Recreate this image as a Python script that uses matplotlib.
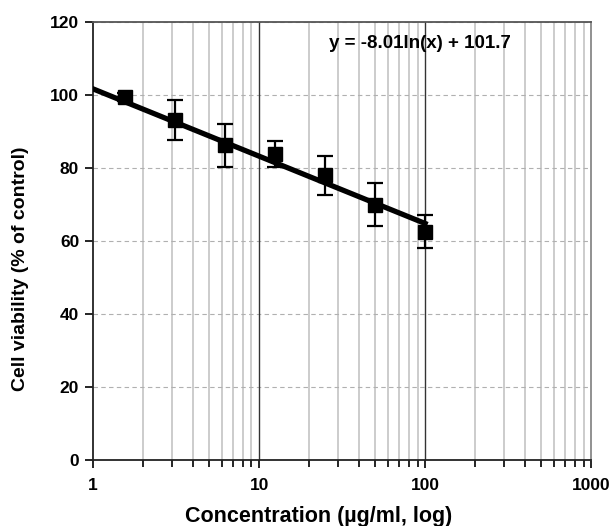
import numpy as np
import matplotlib.pyplot as plt
from matplotlib.patches import Rectangle

# data
conc = [1.5625, 3.125, 6.25, 12.5, 25, 50, 100]
viability = [99.5, 93.2, 86.2, 83.8, 78.0, 70.0, 62.6]
err = [1.0, 5.5, 6.0, 3.6, 5.3, 6.0, 4.4]

# trend line coefficients as printed on the chart
slope, intercept = -8.01, 101.7

plt.rcParams['font.family'] = ['Liberation Sans', 'DejaVu Sans']

fig = plt.figure(figsize=(6.12, 5.26), dpi=100)
ax = fig.add_axes([0.152, 0.1255, 0.814, 0.8325])

ax.set_xscale('log')
ax.set_xlim(1, 1000)
ax.set_ylim(0, 120)

# grid
ax.grid(True, which='minor', axis='x', color='#c4c4c4', lw=1.2, zorder=0)
ax.grid(True, which='major', axis='y', color='#b0b0b0', lw=0.8, ls=(0, (4, 3)), zorder=0)

# white box behind the equation hides the minor grid there
ax.add_patch(Rectangle((11, 109), 990, 12, transform=ax.transData,
                       facecolor='white', edgecolor='none', zorder=1))

for xm in [10, 100]:
    ax.axvline(xm, color='#333333', lw=1.0, zorder=2)

xs = np.logspace(0, 2, 100)
ax.plot(xs, slope * np.log(xs) + intercept, color='black', lw=3.8, zorder=3)
ax.errorbar(conc, viability, yerr=err, fmt='s', color='black', ms=10.5,
            ecolor='black', elinewidth=1.6, capsize=6, capthick=1.6, zorder=4)

ax.text(93, 114, 'y = -8.01ln(x) + 101.7', ha='center', va='center',
        fontsize=13.5, fontweight='bold', zorder=5)

ax.set_yticks([0, 20, 40, 60, 80, 100, 120])
ax.set_xticks([1, 10, 100, 1000])
ax.set_xticklabels(['1', '10', '100', '1000'])
ax.tick_params(axis='both', which='major', labelsize=12.5, width=1.2, length=6, pad=4)
ax.tick_params(axis='x', which='minor', length=5, width=1.2)
ax.tick_params(axis='x', which='major', pad=7)
ax.xaxis.set_minor_formatter(plt.NullFormatter())
for lab in ax.get_xticklabels() + ax.get_yticklabels():
    lab.set_fontweight('bold')

for s in ax.spines.values():
    s.set_linewidth(1.3)
    s.set_color('#222222')
ax.spines['right'].set_color('#888888')
ax.spines['top'].set_color('#555555')

fig.text(0.52, 0.008, 'Concentration (\u00b5g/ml, log)', ha='center', va='baseline',
         fontsize=15.5, fontweight='bold')
fig.text(0.033, 0.49, 'Cell viability (% of control)', ha='center', va='center',
         rotation=90, fontsize=14, fontweight='bold')

fig.savefig('out.png', dpi=100)
